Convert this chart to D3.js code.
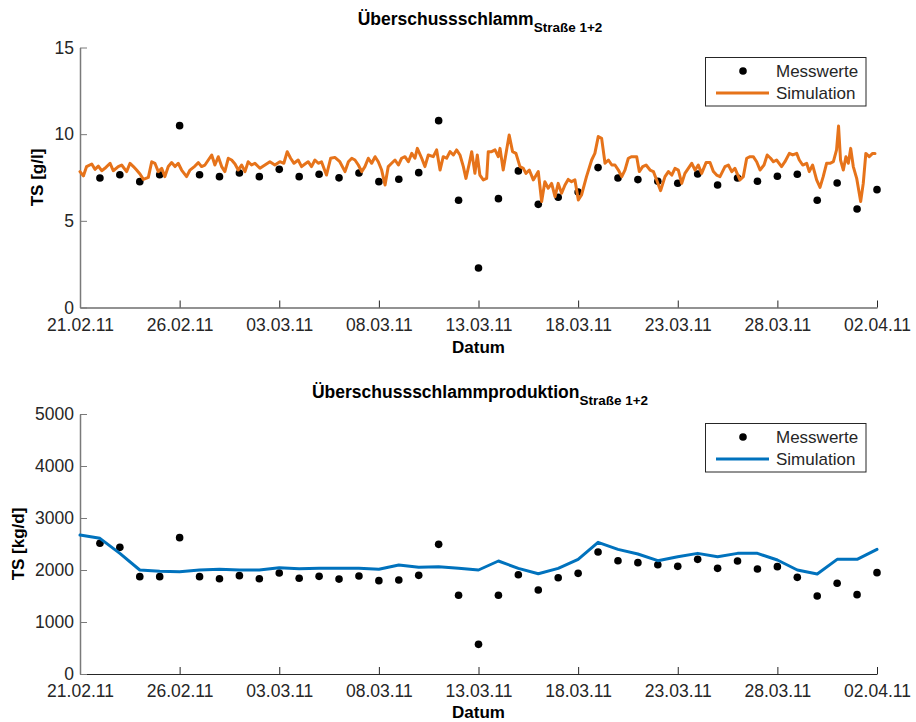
<!DOCTYPE html>
<html>
<head>
<meta charset="utf-8">
<script src="https://cdnjs.cloudflare.com/ajax/libs/d3/7.8.5/d3.min.js"></script>
<style>
  html, body { margin: 0; padding: 0; background: #fff; }
  svg { display: block; }
  text { font-family: "Liberation Sans", Arial, sans-serif; }
</style>
</head>
<body>
<svg id="chart" width="916" height="722"></svg>
<script>
// ---------------- DATA ----------------
const startDate = "2011-02-21";
const endDate = "2011-04-02";
const tickDates = ["2011-02-21","2011-02-26","2011-03-03","2011-03-08","2011-03-13","2011-03-18","2011-03-23","2011-03-28","2011-04-02"];

// Measured sludge concentration (days 1..40 after start)
const measDaysTop = [1,2,3,4,5,6,7,8,9,10,11,12,13,14,15,16,17,18,19,20,21,22,23,24,25,26,27,28,29,30,31,32,33,34,35,36,37,38,39,40];
const measTop = [7.47,7.66,7.26,7.66,10.49,7.66,7.55,7.76,7.55,7.97,7.55,7.69,7.48,7.76,7.26,7.40,7.78,10.78,6.19,2.28,6.28,7.88,5.95,6.36,6.66,8.07,7.47,7.38,7.28,7.17,7.70,7.07,7.47,7.28,7.57,7.69,6.19,7.18,5.68,6.80];

// Simulated sludge concentration (day offset, g/l)
const simTopDay = [0.00,0.17,0.33,0.59,0.75,0.92,1.09,1.25,1.51,1.67,1.92,2.09,2.34,2.51,2.68,2.84,3.01,3.18,3.43,3.60,3.76,3.93,4.10,4.26,4.43,4.60,4.77,4.93,5.10,5.35,5.52,5.77,5.94,6.10,6.27,6.44,6.61,6.77,6.94,7.11,7.27,7.44,7.61,7.78,7.94,8.11,8.28,8.44,8.61,8.78,9.03,9.28,9.53,9.78,10.03,10.23,10.40,10.57,10.74,10.95,11.12,11.29,11.45,11.62,11.79,11.96,12.12,12.37,12.58,12.79,13.04,13.30,13.47,13.64,13.80,13.97,14.14,14.30,14.47,14.64,14.81,14.97,15.14,15.31,15.47,15.64,15.81,15.98,16.14,16.31,16.48,16.65,16.81,16.93,17.15,17.31,17.48,17.73,17.90,18.07,18.23,18.40,18.57,18.74,18.90,19.07,19.24,19.37,19.54,19.66,19.82,19.94,20.07,20.24,20.41,20.49,20.66,20.83,20.99,21.08,21.24,21.41,21.54,21.71,21.88,22.08,22.25,22.38,22.55,22.75,23.00,23.17,23.33,23.50,23.67,23.84,24.00,24.17,24.34,24.50,24.67,24.84,25.01,25.17,25.42,25.68,25.84,26.01,26.18,26.35,26.52,26.69,26.85,27.02,27.19,27.35,27.52,27.69,27.94,28.07,28.24,28.41,28.61,28.78,28.94,29.14,29.36,29.53,29.70,29.86,30.03,30.20,30.36,30.53,30.70,30.87,31.03,31.20,31.42,31.62,31.79,31.95,32.12,32.37,32.54,32.71,32.87,33.12,33.29,33.46,33.63,33.79,33.96,34.13,34.33,34.49,34.66,34.80,34.96,35.21,35.38,35.60,35.77,35.97,36.10,36.27,36.47,36.60,36.77,36.97,37.14,37.30,37.47,37.64,37.81,37.97,38.07,38.17,38.31,38.44,38.56,38.68,38.81,38.98,39.18,39.31,39.44,39.61,39.78,39.90];
const simTopVal = [7.84,7.59,8.13,8.28,7.97,8.16,7.89,8.03,8.32,7.89,8.13,8.22,7.84,8.32,8.13,7.93,7.70,7.39,7.51,8.41,8.32,7.84,8.03,7.55,8.13,8.36,8.13,8.32,7.93,7.55,7.93,8.16,8.36,8.13,8.22,8.51,8.80,8.22,8.70,8.13,7.84,8.61,8.51,8.28,7.93,8.22,7.84,8.41,8.22,8.32,8.03,8.22,8.41,8.22,8.41,8.32,8.99,8.61,8.32,8.51,8.13,8.28,8.41,8.13,8.51,8.32,8.41,7.64,8.61,8.66,8.41,7.84,8.41,8.61,8.51,8.22,7.84,8.13,8.61,8.32,8.70,8.41,7.93,7.07,8.13,8.32,8.51,8.22,8.61,8.70,8.41,8.89,8.61,9.18,8.61,8.13,8.80,8.70,9.09,7.93,8.70,8.61,8.99,8.80,9.09,8.80,8.13,7.45,8.32,8.99,7.74,8.80,7.64,7.36,7.45,8.99,8.99,9.09,8.70,9.18,7.93,9.09,9.95,8.99,8.89,8.13,8.03,7.74,7.93,7.36,7.84,6.11,7.26,6.88,7.16,6.39,7.16,6.59,7.07,7.39,7.26,7.36,6.20,6.49,7.55,8.51,8.89,9.86,9.76,8.32,8.51,8.22,8.22,7.93,7.55,7.93,8.61,8.70,8.70,7.84,8.13,8.22,7.93,7.84,7.36,6.74,7.55,7.84,7.64,8.03,7.93,7.16,7.74,8.03,8.32,7.93,8.22,7.74,8.36,8.36,7.84,7.64,7.55,8.13,8.22,7.84,8.03,7.36,7.55,8.61,8.70,8.70,8.41,7.93,8.22,8.80,8.61,8.41,8.51,8.13,8.41,8.89,8.80,8.89,8.51,8.22,8.32,7.84,8.22,7.36,6.93,7.55,8.32,8.32,8.41,9.09,10.47,8.51,7.93,8.70,8.32,9.18,8.13,7.45,6.11,7.16,8.89,8.70,8.89,8.89];

// Measured excess sludge production (days 1..40), kg/d
const measDaysBot = [1,2,3,4,5,6,7,8,9,10,11,12,13,14,15,16,17,18,19,20,21,22,23,24,25,26,27,28,29,30,31,32,33,34,35,36,37,38,39,40];
const measBot = [2513,2436,1872,1872,2622,1872,1833,1891,1833,1942,1840,1878,1825,1885,1795,1808,1897,2493,1513,570,1513,1910,1615,1852,1936,2346,2179,2141,2102,2070,2205,2032,2173,2019,2064,1859,1500,1744,1526,1949];

// Simulated excess sludge production (days 0..40), kg/d
const simBotDay = [0,1,2,3,4,5,6,7,8,9,10,11,12,13,14,15,16,17,18,19,20,21,22,23,24,25,26,27,28,29,30,31,32,33,34,35,36,37,38,39,40];
const simBot = [2673,2609,2320,2000,1975,1968,2000,2013,2000,2000,2045,2026,2032,2035,2032,2013,2096,2051,2064,2032,2000,2173,2032,1929,2032,2205,2532,2397,2308,2179,2256,2320,2256,2320,2320,2192,2000,1923,2205,2205,2397];

const yTicksTop = [0,5,10,15];
const yTicksBot = [0,1000,2000,3000,4000,5000];
const legendLabels = ["Messwerte","Simulation"];

// ---------------- DRAW ----------------
const svg = d3.select("#chart");
const parse = d3.utcParse("%Y-%m-%d");
const t0 = parse(startDate), t1 = parse(endDate);
const dayToDate = d => new Date(t0.getTime() + d * 86400000);

const x = d3.scaleUtc().domain([t0, t1]).range([80, 877]);
const fmt = d3.utcFormat("%d.%m.%y");

const ORANGE = "#E6731A";
const BLUE = "#0072BD";
const AXIS = "#262626";

function panel(opts) {
  const { top, bottom, yDomain, yTicks, yLabel, yLabelX, title, sub, titleY,
          mDays, mVals, sDays, sVals, color, legendTop, datumY } = opts;
  const y = d3.scaleLinear().domain(yDomain).range([bottom, top]);
  const g = svg.append("g");

  // x axis
  const xa = g.append("g").attr("transform", `translate(0,${bottom})`)
    .call(d3.axisBottom(x).tickValues(tickDates.map(parse)).tickFormat(fmt)
      .tickSizeInner(-7).tickSizeOuter(0).tickPadding(11));
  xa.select(".domain").attr("stroke", AXIS).attr("stroke-width", 1.2);
  xa.selectAll(".tick line").attr("stroke", AXIS);
  xa.selectAll("text").attr("fill", AXIS).style("font-size", "17.5px")
    .style("font-family", '"Liberation Sans", Arial, sans-serif');

  // y axis
  const ya = g.append("g").attr("transform", `translate(80,0)`)
    .call(d3.axisLeft(y).tickValues(yTicks).tickFormat(d3.format("d"))
      .tickSizeInner(-7).tickSizeOuter(0).tickPadding(6));
  ya.select(".domain").attr("stroke", "#7a7a7a").attr("stroke-width", 1.5);
  ya.selectAll(".tick line").attr("stroke", "#7a7a7a");
  ya.selectAll("text").attr("fill", AXIS).style("font-size", "17.5px")
    .style("font-family", '"Liberation Sans", Arial, sans-serif');

  // axis labels
  g.append("text").attr("x", 478.5).attr("y", datumY)
    .attr("text-anchor", "middle").style("font-size", "17px").style("font-weight", "bold")
    .attr("fill", "#000").text("Datum");
  g.append("text").attr("transform", `translate(${yLabelX},${(top + bottom) / 2}) rotate(-90)`)
    .attr("text-anchor", "middle").attr("dy", "0.35em")
    .style("font-size", "17px").style("font-weight", "bold").attr("fill", "#000").text(yLabel);

  // title
  const tt = g.append("text").attr("x", 480).attr("y", titleY).attr("text-anchor", "middle")
    .style("font-weight", "bold").attr("fill", "#000");
  tt.append("tspan").style("font-size", "17.5px").text(title);
  tt.append("tspan").attr("dy", 7).style("font-size", "13.5px").text(sub);

  // measurements
  g.append("g").selectAll("circle").data(mDays.map((d, i) => [d, mVals[i]])).join("circle")
    .attr("cx", d => x(dayToDate(d[0]))).attr("cy", d => y(d[1])).attr("r", 3.8).attr("fill", "#000");

  // simulation
  const line = d3.line().x(d => x(dayToDate(d[0]))).y(d => y(d[1]));
  g.append("path").datum(sDays.map((d, i) => [d, sVals[i]]))
    .attr("d", line).attr("fill", "none").attr("stroke", color)
    .attr("stroke-width", 3).attr("stroke-linejoin", "round").attr("stroke-linecap", "round");

  // legend
  const lg = g.append("g").attr("transform", `translate(705.5,${legendTop})`);
  lg.append("rect").attr("width", 160.5).attr("height", 48.5).attr("fill", "#fff")
    .attr("stroke", AXIS).attr("stroke-width", 1);
  lg.append("circle").attr("cx", 37.5).attr("cy", 13.5).attr("r", 3.8).attr("fill", "#000");
  lg.append("line").attr("x1", 10.5).attr("x2", 63.5).attr("y1", 35.5).attr("y2", 35.5)
    .attr("stroke", color).attr("stroke-width", 3);
  lg.selectAll("text.lab").data(legendLabels).join("text").attr("class", "lab")
    .attr("x", 70.5).attr("y", (d, i) => 13.5 + i * 22).attr("dy", "0.36em")
    .style("font-size", "17px").attr("fill", AXIS).text(d => d);
}

panel({ top: 47.5, bottom: 307.5, yDomain: [0, 15], yTicks: yTicksTop, yLabel: "TS [g/l]", yLabelX: 37,
  title: "Überschussschlamm", sub: "Straße 1+2", titleY: 25,
  mDays: measDaysTop, mVals: measTop, sDays: simTopDay, sVals: simTopVal, color: ORANGE, legendTop: 57.5, datumY: 353 });

panel({ top: 414, bottom: 674, yDomain: [0, 5000], yTicks: yTicksBot, yLabel: "TS [kg/d]", yLabelX: 18,
  title: "Überschussschlammproduktion", sub: "Straße 1+2", titleY: 398,
  mDays: measDaysBot, mVals: measBot, sDays: simBotDay, sVals: simBot, color: BLUE, legendTop: 423.5, datumY: 718 });
</script>
</body>
</html>
